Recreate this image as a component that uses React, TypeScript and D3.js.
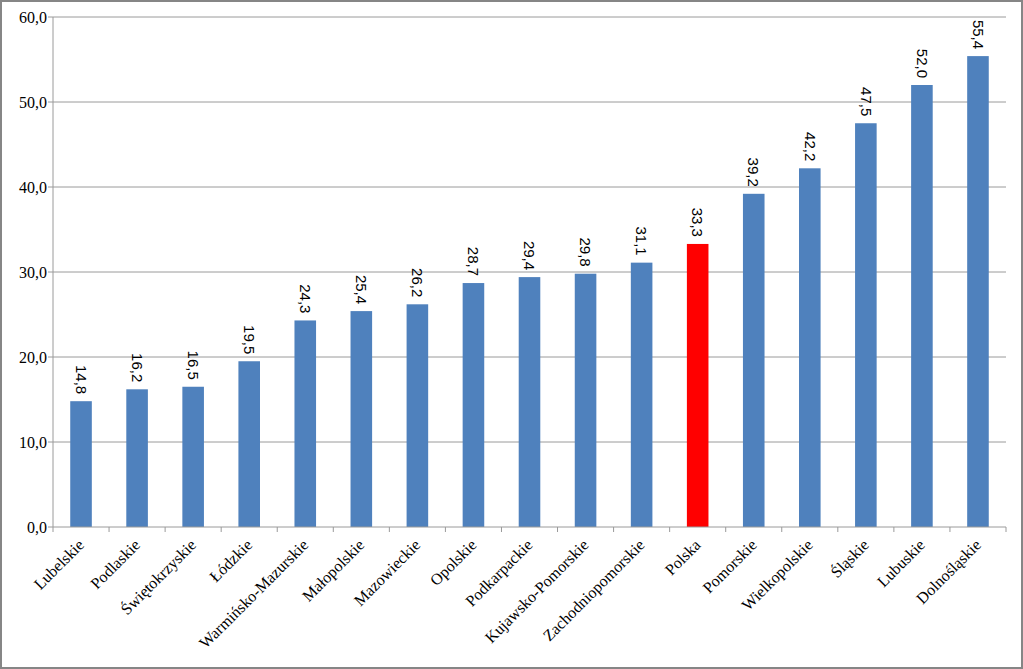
import React from "react";
import * as d3 from "d3";

const categories = ["Lubelskie","Podlaskie","Świętokrzyskie","Łódzkie","Warmińsko-Mazurskie","Małopolskie","Mazowieckie","Opolskie","Podkarpackie","Kujawsko-Pomorskie","Zachodniopomorskie","Polska","Pomorskie","Wielkopolskie","Śląskie","Lubuskie","Dolnośląskie"];
const values = [14.8,16.2,16.5,19.5,24.3,25.4,26.2,28.7,29.4,29.8,31.1,33.3,39.2,42.2,47.5,52.0,55.4];
const highlight = "Polska";
const yTicks = [0,10,20,30,40,50,60];

const W = 1023, H = 669;
const left = 53, right = 1006, top = 17, bottom = 527;

export default function App() {
  const x = d3.scaleBand<string>().domain(categories).range([left, right]).padding(0);
  const y = d3.scaleLinear().domain([0, 60]).range([bottom, top]);
  const bw = x.bandwidth();
  const barW = bw * 0.385;
  const fmt = (v: number) => v.toFixed(1).replace(".", ",");
  return (
    <svg width={W} height={H} style={{ position: "absolute", left: 0, top: 0, background: "#fff" }}>
      <rect x={1} y={1} width={W - 2} height={H - 2} fill="#fff" stroke="#868686" strokeWidth={2} />
      {yTicks.map((t) => (
        <g key={t}>
          {t > 0 && <line x1={left} x2={right} y1={y(t)} y2={y(t)} stroke="#9a9a9a" strokeWidth={1} />}
          <line x1={left - 5} x2={left} y1={y(t)} y2={y(t)} stroke="#9a9a9a" />
          <text x={left - 6} y={y(t)} dy="0.35em" textAnchor="end" fontFamily="Liberation Serif" fontSize={16} fill="#000">{fmt(t)}</text>
        </g>
      ))}
      <line x1={left} x2={left} y1={top} y2={bottom} stroke="#9a9a9a" />
      {categories.map((c, i) => (
        <rect key={c} x={x(c)! + bw / 2 - barW / 2} y={y(values[i])} width={barW} height={bottom - y(values[i])} fill={c === highlight ? "#FF0000" : "#4F81BD"} />
      ))}
      <line x1={left} x2={right} y1={bottom} y2={bottom} stroke="#9a9a9a" />
      {categories.map((c, i) => (
        <line key={"t" + i} x1={x(c)!} x2={x(c)!} y1={bottom} y2={bottom + 5} stroke="#9a9a9a" />
      ))}
      <line x1={right} x2={right} y1={bottom} y2={bottom + 5} stroke="#9a9a9a" />
      {categories.map((c, i) => {
        const cx = x(c)! + bw / 2;
        const ty = y(values[i]) - 7;
        return (
          <text key={"v" + i} transform={`translate(${cx},${ty}) rotate(90)`} textAnchor="end" dy="0.35em" fontFamily="Liberation Sans" fontSize={15} fill="#000">{fmt(values[i])}</text>
        );
      })}
      {categories.map((c, i) => {
        const cx = x(c)! + bw / 2;
        return (
          <text key={"c" + i} transform={`translate(${cx},${bottom + 15}) rotate(-45)`} textAnchor="end" dy="0.35em" fontFamily="Liberation Serif" fontSize={16} fill="#000">{c}</text>
        );
      })}
    </svg>
  );
}
